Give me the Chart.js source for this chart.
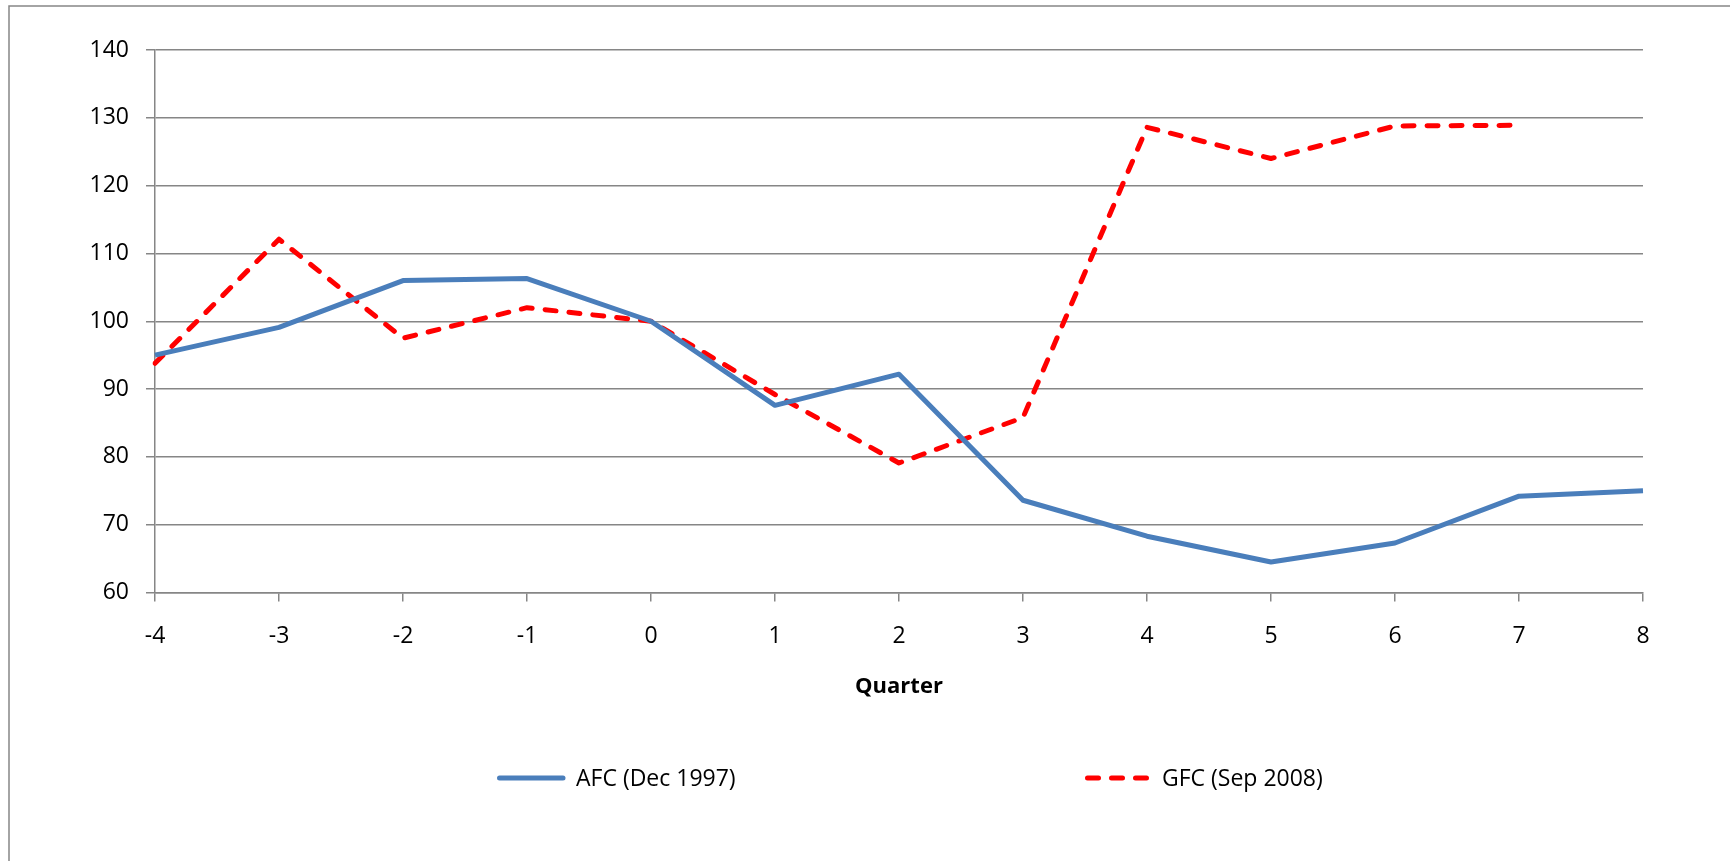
<!DOCTYPE html>
<html>
<head>
<meta charset="utf-8">
<script src="https://cdn.jsdelivr.net/npm/chart.js@4.4.1/dist/chart.umd.min.js"></script>
<style>
  html, body { margin: 0; padding: 0; background: #fff; }
  #wrap { width: 1730px; height: 861px; }
</style>
</head>
<body>
<div id="wrap"><canvas id="linechart" width="1730" height="861"></canvas></div>
<script>
const quarters = ['-4', '-3', '-2', '-1', '0', '1', '2', '3', '4', '5', '6', '7', '8'];
const afcValues = [95.0, 99.1, 106.0, 106.3, 100.0, 87.6, 92.2, 73.6, 68.3, 64.5, 67.3, 74.2, 75.0];
const gfcValues = [93.8, 112.1, 97.5, 102.0, 100.0, 89.2, 79.1, 85.8, 128.6, 124.0, 128.8, 128.9, null];
const yTicks = [60, 70, 80, 90, 100, 110, 120, 130, 140];

const gridGray = '#868686';
const fontFamily = '"Open Sans", "Liberation Sans", sans-serif';

// outer frame like the excel chart border
const frame = {
    id: 'frame',
    beforeDraw(chart) {
        const c = chart.ctx;
        c.save();
        c.fillStyle = '#fff';
        c.fillRect(0, 0, chart.width, chart.height);
        c.strokeStyle = gridGray;
        c.lineWidth = 1.5;
        c.strokeRect(9, 6, chart.width + 20, chart.height + 20);
        c.restore();
    }
};

// legend drawn at fixed spots, spread out like the original
const legendSpots = [497, 1085];
const wideLegend = {
    id: 'wideLegend',
    afterDraw(chart) {
        const c = chart.ctx;
        const y = 778;
        c.save();
        chart.data.datasets.forEach((ds, i) => {
            const x = legendSpots[i];
            c.strokeStyle = ds.borderColor;
            c.lineWidth = ds.borderWidth;
            c.lineCap = 'round';
            c.setLineDash(ds.borderDash || []);
            c.beginPath();
            c.moveTo(x + 2.5, y);
            c.lineTo(x + 66, y);
            c.stroke();
            c.setLineDash([]);
            c.fillStyle = '#000';
            c.font = '23px ' + fontFamily;
            c.textBaseline = 'middle';
            c.fillText(ds.label, x + (i === 0 ? 79 : 77), y + 1);
        });
        c.restore();
    }
};

const ctx = document.getElementById('linechart').getContext('2d');
const linechart = new Chart(ctx, {
    type: 'line',
    data: {
        labels: quarters,
        datasets: [{
            label: 'AFC (Dec 1997)',
            data: afcValues,
            borderColor: '#4a7ebb',
            borderWidth: 5,
            borderJoinStyle: 'round',
            pointRadius: 0,
            tension: 0
        }, {
            label: 'GFC (Sep 2008)',
            data: gfcValues,
            borderColor: '#ff0000',
            borderWidth: 5,
            borderDash: [11, 13],
            borderCapStyle: 'round',
            borderJoinStyle: 'round',
            pointRadius: 0,
            tension: 0
        }]
    },
    options: {
        responsive: false,
        animation: false,
        layout: {
            padding: { left: 0, top: 50, right: 87, bottom: 0 }
        },
        plugins: {
            legend: { display: false },
            tooltip: { enabled: false }
        },
        scales: {
            x: {
                offset: false,
                afterFit: (scale) => { scale.height = 268.5; },
                grid: {
                    drawOnChartArea: false,
                    drawTicks: true,
                    tickLength: 9,
                    tickColor: gridGray,
                    lineWidth: 1.5
                },
                border: { color: gridGray, width: 1.5 },
                ticks: {
                    color: '#000',
                    padding: 20.7,
                    maxRotation: 0,
                    font: { family: fontFamily, size: 23 }
                },
                title: {
                    display: true,
                    text: 'Quarter',
                    color: '#000',
                    font: { family: fontFamily, size: 22, weight: 'bold' },
                    padding: { top: 0, bottom: 161.1 }
                }
            },
            y: {
                min: 60,
                max: 140,
                afterFit: (scale) => { scale.width = 155; },
                afterBuildTicks: (scale) => {
                    scale.ticks = yTicks.map(v => ({ value: v }));
                },
                grid: {
                    color: gridGray,
                    lineWidth: 1.5,
                    tickLength: 9,
                    tickColor: gridGray
                },
                border: { color: gridGray, width: 1.5 },
                ticks: {
                    color: '#000',
                    padding: 17,
                    font: { family: fontFamily, size: 23 }
                }
            }
        }
    },
    plugins: [frame, wideLegend]
});
</script>
</body>
</html>
